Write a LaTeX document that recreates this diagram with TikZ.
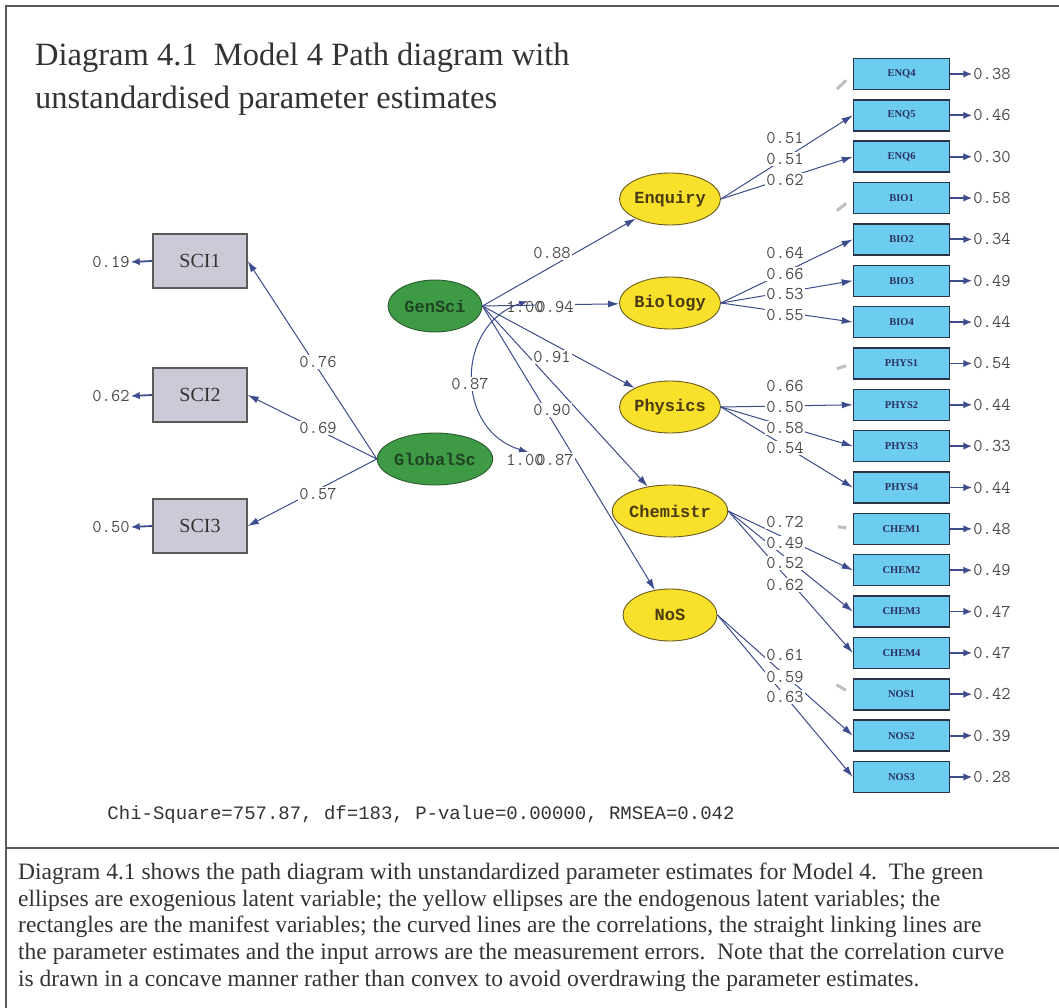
\documentclass[tikz,border=0pt]{standalone}
\usepackage{fontspec}
\setmainfont{Liberation Serif}
\newfontfamily\monof{Liberation Mono}
\usetikzlibrary{shapes.geometric,arrows.meta,calc}
\definecolor{navy}{HTML}{3D4C8C}
\definecolor{yel}{HTML}{F9E02A}
\definecolor{yeldraw}{HTML}{6A5A20}
\definecolor{yeltext}{HTML}{4A3C10}
\definecolor{grn}{HTML}{3F9A45}
\definecolor{grndraw}{HTML}{2A5A2E}
\definecolor{grntext}{HTML}{1E4422}
\definecolor{skyb}{HTML}{6CCDF0}
\definecolor{boxdraw}{HTML}{2A3448}
\definecolor{boxtext}{HTML}{2A3060}
\definecolor{graybox}{HTML}{CBCBD8}
\definecolor{numgray}{HTML}{4A4A4A}
\definecolor{framec}{HTML}{5A5A5A}
\definecolor{captext}{HTML}{333333}
\begin{document}
\begin{tikzpicture}[x=1pt,y=-1pt,
  lat/.style={ellipse, minimum width=94pt, minimum height=52pt, inner sep=0pt, line width=0.9pt,
    font=\monof\bfseries\fontsize{17}{17}\selectfont},
  endo/.style={lat, draw=yeldraw, fill=yel, text=yeltext},
  exo/.style={lat, draw=grndraw, fill=grn, text=grntext},
  obs/.style={rectangle, draw=boxdraw, line width=1.5pt, fill=skyb, minimum width=96pt, minimum height=31pt,
    inner sep=0pt, font=\bfseries\fontsize{10.5}{10.5}\selectfont, text=boxtext},
  scibox/.style={rectangle, draw=framec, line width=1.5pt, fill=graybox, minimum width=94pt, minimum height=54pt,
    inner sep=0pt, font=\fontsize{20}{20}\selectfont, text=captext},
  pathline/.style={draw=navy, line width=1pt, -{Latex[length=11pt,width=7pt]}},
  errline/.style={draw=navy, line width=1.8pt, -{Latex[length=9pt,width=7.5pt]}},
  fixmark/.style={draw=black!25, line width=3pt},
  est/.style={fill=white, inner sep=1pt, text=numgray, font=\ttfamily\fontsize{18}{18}\selectfont},
  estnf/.style={inner sep=1pt, text=numgray, font=\ttfamily\fontsize{18}{18}\selectfont},
  captline/.style={anchor=base west, inner sep=0pt, text=captext, font=\fontsize{23.5}{23.5}\selectfont},
  titleline/.style={anchor=base west, inner sep=0pt, text=captext, font=\fontsize{32.5}{32.5}\selectfont}
]
\useasboundingbox (0,0) rectangle (1059,1008);
\fill[white] (0,0) rectangle (1059,1008);

% frame
\draw[framec, line width=2pt] (1059,6) -- (6,6) -- (6,1008);
\draw[framec, line width=2pt] (6,848) -- (1059,848);

% title
\node[titleline] (t1) at (35,66) {Diagram 4.1\ \ Model 4 Path diagram with};
\node[titleline] (t2) at (35,109) {unstandardised parameter estimates};

% observed variables on the right
\foreach \n/\v [count=\i from 0] in {ENQ4/0.38,ENQ5/0.46,ENQ6/0.30,BIO1/0.58,BIO2/0.34,BIO3/0.49,BIO4/0.44,
  PHYS1/0.54,PHYS2/0.44,PHYS3/0.33,PHYS4/0.44,CHEM1/0.48,CHEM2/0.49,CHEM3/0.47,CHEM4/0.47,NOS1/0.42,NOS2/0.39,NOS3/0.28}{
  \node[obs] (\n) at (901.5,{74+41.35*\i}) {\n};
  \node[est] (e\n) at (992,{74+41.35*\i}) {\v};
  \draw[errline] (\n.east) -- (e\n.west);
}

% left boxes
\foreach \n/\y/\v in {SCI1/261/0.19,SCI2/395/0.62,SCI3/526/0.50}{
  \node[scibox] (\n) at (200,\y) {\n};
  \node[est] (e\n) at (111,\y+1) {\v};
  \draw[errline] (\n.west) -- (e\n.east);
}

% latent variables
\node[endo] (Enquiry) at (670,199) {Enquiry};
\node[endo] (Biology) at (670,303) {Biology};
\node[endo] (Physics) at (670,407) {Physics};
\node[endo] (Chemistr) at (670,511) {Chemistr};
\node[endo] (NoS) at (670,615) {NoS};
\node[exo] (GenSci) at (435,306) {GenSci};
\node[exo] (GlobalSc) at (435,459) {GlobalSc};

% structural paths
\foreach \t in {Enquiry,Biology,Physics,Chemistr,NoS}{
  \draw[pathline] (GenSci.east) -- (\t);
}
\foreach \t in {SCI1,SCI2,SCI3}{
  \draw[pathline] (GlobalSc.west) -- (\t.east);
}

% measurement paths
\foreach \s/\t in {Enquiry/ENQ5,Enquiry/ENQ6,Biology/BIO2,Biology/BIO3,Biology/BIO4,
  Physics/PHYS2,Physics/PHYS3,Physics/PHYS4,Chemistr/CHEM2,Chemistr/CHEM3,Chemistr/CHEM4,NoS/NOS2,NoS/NOS3}{
  \draw[pathline] (\s.east) -- (\t.west);
}
% faint fixed paths
\foreach \s/\t in {Enquiry/ENQ4,Biology/BIO1,Physics/PHYS1,Chemistr/CHEM1,NoS/NOS1}{
  \draw[fixmark] ($(\s.east)!0.88!(\t.west)$) -- ($(\s.east)!0.95!(\t.west)$);
}

% correlation curve
\coordinate (c1) at (528,301);
\coordinate (c2) at (528,452);
\draw[navy, line width=1pt, {Latex[length=9pt,width=6pt]}-{Latex[length=9pt,width=6pt]}]
  (c1) .. controls (455,325) and (455,430) .. (c2);
\node[est] (r87) at (470,384) {0.87};

% structural estimates
\node[est] (g88) at (552,253) {0.88};
\node[est] (g94) at (555,307) {0.94};
\node[estnf] (v1) at (525,307) {1.00};
\node[est] (g91) at (552,357) {0.91};
\node[est] (g90) at (552,410) {0.90};
\node[est] (g87) at (555,460) {0.87};
\node[estnf] (v2) at (525,460) {1.00};
\node[est] (l76) at (318,362) {0.76};
\node[est] (l69) at (318,428) {0.69};
\node[est] (l57) at (318,494) {0.57};

% measurement estimates
\foreach \y/\v [count=\k] in {138/0.51,159/0.51,180/0.62,253/0.64,274/0.66,294/0.53,315/0.55,
  386/0.66,407/0.50,428/0.58,448/0.54,522/0.72,543/0.49,563/0.52,585/0.62,655/0.61,677/0.59,697/0.63}{
  \node[est] (m\k) at (785,\y) {\v};
}

% fit statistics
\node[inner sep=0pt, text=captext, font=\monof\fontsize{19}{19}\selectfont] (fit) at (421,815)
  {Chi-Square=757.87, df=183, P-value=0.00000, RMSEA=0.042};

% caption
\node[captline] (cp1) at (18,879) {Diagram 4.1 shows the path diagram with unstandardized parameter estimates for Model 4.\ \ The green};
\node[captline] (cp2) at (18,906) {ellipses are exogenious latent variable; the yellow ellipses are the endogenous latent variables; the};
\node[captline] (cp3) at (18,932) {rectangles are the manifest variables; the curved lines are the correlations, the straight linking lines are};
\node[captline] (cp4) at (18,959) {the parameter estimates and the input arrows are the measurement errors.\ \ Note that the correlation curve};
\node[captline] (cp5) at (18,986) {is drawn in a concave manner rather than convex to avoid overdrawing the parameter estimates.};
\end{tikzpicture}
\end{document}
